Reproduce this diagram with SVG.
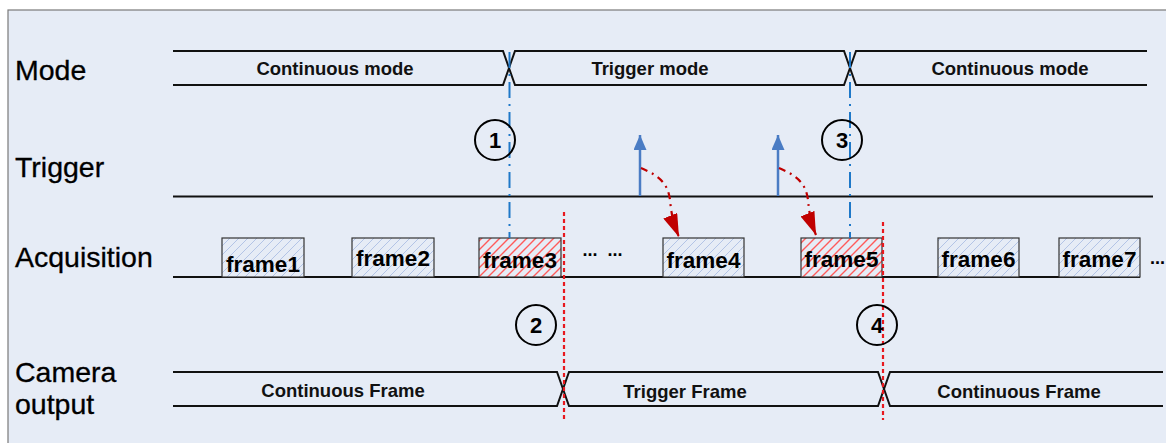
<svg xmlns="http://www.w3.org/2000/svg" width="1166" height="443" viewBox="0 0 1166 443">
<defs>
<pattern id="hb" patternUnits="userSpaceOnUse" width="9" height="9">
<path d="M-1,10 L10,-1 M-1,1 L1,-1 M8,10 L10,8" stroke="#b3c4e6" stroke-width="1"/>
</pattern>
<pattern id="hr" patternUnits="userSpaceOnUse" width="9" height="9">
<path d="M-1,10 L10,-1 M-1,1 L1,-1 M8,10 L10,8" stroke="#ff5a5a" stroke-width="1.4"/>
</pattern>
<marker id="ab" markerWidth="15" markerHeight="13" refX="15" refY="6.5" orient="auto" markerUnits="userSpaceOnUse" viewBox="0 0 15 13">
<path d="M0,0 L15,6.5 L0,13 Z" fill="#4a7cc4"/>
</marker>
<marker id="ar" markerWidth="23" markerHeight="15" refX="23" refY="7.5" orient="auto" markerUnits="userSpaceOnUse" viewBox="0 0 23 15">
<path d="M23,7.5 L0,0 L0,15 Z" fill="#c00000"/>
</marker>
</defs>
<style>
.lbl{font-family:"Liberation Sans",Arial,sans-serif;font-size:28.5px;fill:#000;stroke:#000;stroke-width:0.3}
.sig{font-family:"Liberation Sans",Arial,sans-serif;font-size:18.5px;font-weight:bold;fill:#111;text-anchor:middle}
.fr{font-family:"Liberation Sans",Arial,sans-serif;font-size:22.5px;font-weight:bold;fill:#000;text-anchor:middle}
.num{font-family:"Liberation Sans",Arial,sans-serif;font-size:22px;font-weight:bold;fill:#000;text-anchor:middle}
.wave{fill:none;stroke:#111;stroke-width:2}
.box{stroke:#333;stroke-width:1.2}
.circ{fill:none;stroke:#000;stroke-width:2}
.blue{stroke:#1f78c8;stroke-width:2;stroke-dasharray:16,6,2,6;fill:none}
.red{stroke:#e8181e;stroke-width:2.2;stroke-dasharray:4,3;fill:none}
.trig{stroke:#4a7cc4;stroke-width:2.5;fill:none}
.curve{stroke:#c00000;stroke-width:2.2;stroke-dasharray:7,5,2,5;fill:none}
</style>
<rect x="0" y="0" width="1166" height="443" fill="#ffffff"/>
<rect x="8" y="10" width="1170" height="440" fill="#e6ecf6" stroke="#7a7a7a" stroke-width="1.2"/>

<g id="labels">
<text class="lbl" x="15" y="80">Mode</text>
<text class="lbl" x="15" y="177">Trigger</text>
<text class="lbl" x="15" y="267">Acquisition</text>
<text class="lbl" x="15" y="382">Camera</text>
<text class="lbl" x="15" y="414">output</text>
</g>

<g id="mode">
<path class="wave" d="M173,51 H503 L515,85 H844 L856,51 H1147"/>
<path class="wave" d="M173,85 H503 L515,51 H844 L856,85 H1147"/>
<text class="sig" x="335" y="75">Continuous mode</text>
<text class="sig" x="650" y="75">Trigger mode</text>
<text class="sig" x="1010" y="75">Continuous mode</text>
</g>

<g id="camera">
<path class="wave" d="M173,372 H557 L569,406 H878 L890,372 H1163"/>
<path class="wave" d="M173,406 H557 L569,372 H878 L890,406 H1163"/>
<text class="sig" x="343" y="397">Continuous Frame</text>
<text class="sig" x="685" y="398">Trigger Frame</text>
<text class="sig" x="1019" y="398">Continuous Frame</text>
</g>

<g id="trigger">
<line class="wave" x1="173" y1="196.5" x2="1153" y2="196.5"/>
</g>

<g id="acquisition">
<line class="wave" x1="173" y1="277" x2="1140" y2="277"/>
</g>

<g id="frame1"><rect x="222" y="238" width="82" height="39" fill="#e6ecf6"/><rect class="box" x="222" y="238" width="82" height="39" fill="url(#hb)"/><text class="fr" x="263" y="272">frame1</text></g>
<g id="frame2"><rect x="352" y="238" width="82" height="39" fill="#e6ecf6"/><rect class="box" x="352" y="238" width="82" height="39" fill="url(#hb)"/><text class="fr" x="393" y="266">frame2</text></g>
<g id="frame3"><rect x="479" y="238" width="82" height="39" fill="#e6ecf6"/><rect class="box" x="479" y="238" width="82" height="39" fill="url(#hr)"/><text class="fr" x="520" y="268">frame3</text></g>
<g id="frame4"><rect x="663" y="238" width="81" height="39" fill="#e6ecf6"/><rect class="box" x="663" y="238" width="81" height="39" fill="url(#hb)"/><text class="fr" x="703.5" y="268">frame4</text></g>
<g id="frame5"><rect x="801" y="238" width="81" height="39" fill="#e6ecf6"/><rect class="box" x="801" y="238" width="81" height="39" fill="url(#hr)"/><text class="fr" x="841.5" y="267">frame5</text></g>
<g id="frame6"><rect x="938" y="238" width="81" height="39" fill="#e6ecf6"/><rect class="box" x="938" y="238" width="81" height="39" fill="url(#hb)"/><text class="fr" x="978.5" y="267">frame6</text></g>
<g id="frame7"><rect x="1059" y="238" width="81" height="39" fill="#e6ecf6"/><rect class="box" x="1059" y="238" width="81" height="39" fill="url(#hb)"/><text class="fr" x="1099.5" y="267">frame7</text></g>

<g id="ellipsis">
<text class="fr" x="590" y="256" style="font-size:18px">...</text>
<text class="fr" x="615" y="256" style="font-size:18px">...</text>
<text class="fr" x="1150" y="264" style="font-size:18px;text-anchor:start">...</text>
</g>

<g id="connectors">
<line class="blue" x1="509.5" y1="52" x2="509.5" y2="238"/>
<line class="blue" x1="850" y1="52" x2="850" y2="238"/>
<line class="red" x1="564" y1="212" x2="564" y2="422"/>
<line class="red" x1="883" y1="222" x2="883" y2="420"/>
<line class="trig" x1="640" y1="196" x2="640" y2="135" marker-end="url(#ab)"/>
<line class="trig" x1="778" y1="196" x2="778" y2="135" marker-end="url(#ab)"/>
<path class="curve" d="M641,168 C660,176 668,184 670,200 C671,210 672,220 679,237" marker-end="url(#ar)"/>
<path class="curve" d="M779,168 C798,176 806,184 808,200 C809,210 810,220 816,235" marker-end="url(#ar)"/>
</g>

<g id="c1"><circle class="circ" cx="495" cy="140" r="20" fill="#e6ecf6"/><text class="num" x="495" y="148">1</text></g>
<g id="c3"><circle class="circ" cx="842" cy="140" r="20"/><text class="num" x="842" y="148">3</text></g>
<g id="c2"><circle class="circ" cx="536" cy="325" r="20"/><text class="num" x="536" y="333">2</text></g>
<g id="c4"><circle class="circ" cx="877" cy="325" r="20"/><text class="num" x="877" y="333">4</text></g>
</svg>
